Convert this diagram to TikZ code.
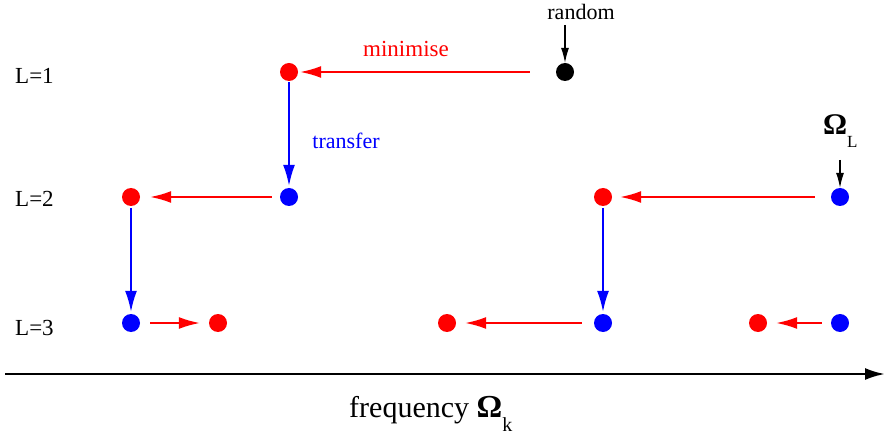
\documentclass[tikz,border=0pt]{standalone}
\usepackage{fontspec}
\setmainfont{Liberation Serif}
\usetikzlibrary{arrows.meta}
\begin{document}
\begin{tikzpicture}[x=1pt,y=-1pt,
  dotr/.style={circle,fill=red,inner sep=0pt,minimum size=18pt},
  dotb/.style={circle,fill=blue,inner sep=0pt,minimum size=18pt},
  dotk/.style={circle,fill=black,inner sep=0pt,minimum size=18pt},
  redarr/.style={red,line width=1.8pt,-{Latex[length=21pt,width=12pt]}},
  bluearr/.style={blue,line width=1.8pt,-{Latex[length=21pt,width=12pt]}},
  blkarr/.style={black,line width=1.1pt,-{Latex[length=15pt,width=8pt]}},
  lvl/.style={font=\fontsize{23}{26}\selectfont,anchor=base west,inner sep=0pt},
  ]
\useasboundingbox (0,0) rectangle (885,435);
% levels
\node[lvl] (l1) at (15,84) {L=1};
\node[lvl] (l2) at (15,207) {L=2};
\node[lvl] (l3) at (15,335) {L=3};
% dots
\node[dotr] (a1) at (289,72) {};
\node[dotk] (k1) at (565,72) {};
\node[dotr] (a2) at (131,197) {};
\node[dotb] (b2) at (289,197) {};
\node[dotr] (c2) at (603,197) {};
\node[dotb] (d2) at (840,197) {};
\node[dotb] (a3) at (131,323) {};
\node[dotr] (b3) at (218,323) {};
\node[dotr] (c3) at (447,323) {};
\node[dotb] (d3) at (603,323) {};
\node[dotr] (e3) at (758,323) {};
\node[dotb] (f3) at (840,323) {};
% labels
\node[font=\fontsize{22}{24}\selectfont,anchor=base,inner sep=0pt] (rnd) at (581,20) {random};
\coordinate (rndtop) at (565,25);
\node[red,font=\fontsize{23}{26}\selectfont,anchor=base,inner sep=0pt] (mini) at (406,57) {minimise};
\node[blue,font=\fontsize{22}{24}\selectfont] (trans) at (346,141) {transfer};
\node[anchor=base west,inner sep=0pt] (om) at (823,135) {\fontsize{30}{32}\selectfont\textbf{Ω}\raisebox{-13pt}{\fontsize{17}{18}\selectfont L}};
\coordinate (omtop) at (840,160);
% arrows
\draw[blkarr] (rndtop) -- (k1);
\draw[blkarr] (omtop) -- (d2);
\draw[redarr,shorten <=26pt,shorten >=2pt] (k1) -- (a1);
\draw[bluearr,shorten <=1pt,shorten >=2pt] (a1) -- (b2);
\draw[redarr,shorten <=8pt,shorten >=10pt] (b2) -- (a2);
\draw[redarr,shorten <=16pt,shorten >=8pt] (d2) -- (c2);
\draw[bluearr,shorten <=2pt,shorten >=2pt] (a2) -- (a3);
\draw[bluearr,shorten <=2pt,shorten >=2pt] (c2) -- (d3);
\draw[redarr,shorten <=10pt,shorten >=9pt] (a3) -- (b3);
\draw[redarr,shorten <=12pt,shorten >=9pt] (d3) -- (c3);
\draw[redarr,shorten <=9pt,shorten >=9pt] (f3) -- (e3);
% axis
\coordinate (ax0) at (5,374);
\coordinate (ax1) at (885,374);
\draw[black,line width=2.6pt,-{Latex[length=20pt,width=12pt]}] (ax0) -- (ax1);
\node[anchor=base west,inner sep=0pt] (freq) at (349,417) {\fontsize{30}{32}\selectfont frequency {\fontsize{32}{34}\selectfont\textbf{Ω}}\raisebox{-14pt}{\fontsize{20}{22}\selectfont k}};
\end{tikzpicture}
\end{document}
